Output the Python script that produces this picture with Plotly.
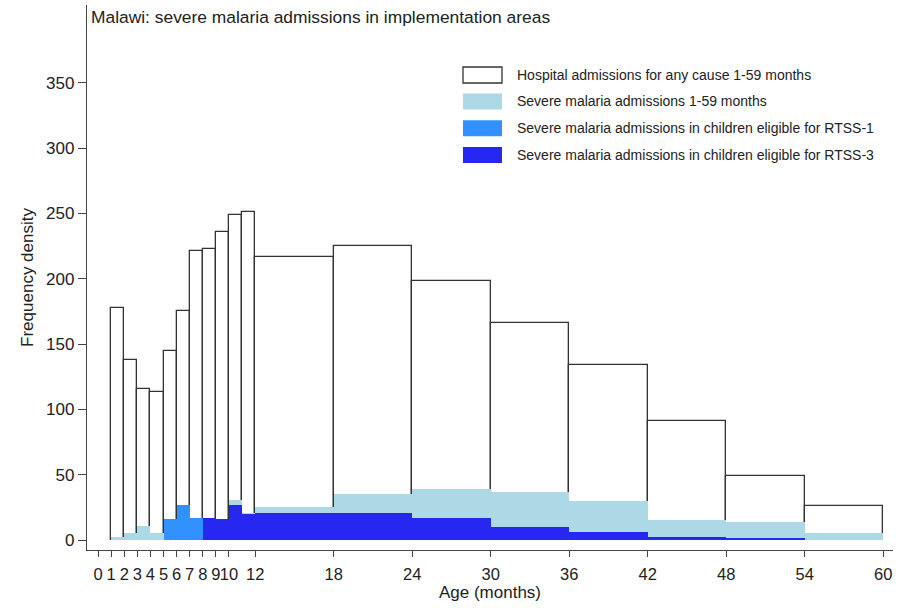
"""
Malawi: severe malaria admissions by age (frequency density histogram).
"""
import plotly.graph_objects as go

FIG_W, FIG_H = 910, 609
FONT = "Liberation Sans, Arial, sans-serif"

# age bins (months)
BIN_LEFT = [1, 2, 3, 4, 5, 6, 7, 8, 9, 10, 11, 12, 18, 24, 30, 36, 42, 48, 54]
BIN_RIGHT = [2, 3, 4, 5, 6, 7, 8, 9, 10, 11, 12, 18, 24, 30, 36, 42, 48, 54, 60]

# frequency density per bin
HOSPITAL = [178, 138, 116, 113, 145, 175, 221, 223, 236, 249, 251,
            217, 225, 198, 166, 134, 91, 49, 26]
SEVERE = [2, 5, 11, 5, 16, 27, 17, 17, 16, 31, 21,
          25, 35, 39, 37, 30, 15, 14, 5]

RTSS1_LEFT = [5, 6, 7]
RTSS1_RIGHT = [6, 7, 8]
RTSS1 = [16, 27, 17]

RTSS3_LEFT = [8, 9, 10, 11, 12, 18, 24, 30, 36, 42, 48]
RTSS3_RIGHT = [9, 10, 11, 12, 18, 24, 30, 36, 42, 48, 54]
RTSS3 = [17, 16, 27, 20, 21, 21, 17, 10, 6, 2.5, 1]

X_TICKS = [0, 1, 2, 3, 4, 5, 6, 7, 8, 9, 10, 12, 18, 24, 30, 36, 42, 48, 54, 60]
Y_TICKS = [0, 50, 100, 150, 200, 250, 300, 350]

LEGEND_LABELS = [
    "Hospital admissions for any cause 1-59 months",
    "Severe malaria admissions 1-59 months",
    "Severe malaria admissions in children eligible for RTSS-1",
    "Severe malaria admissions in children eligible for RTSS-3",
]
COL_HOSP = "white"
COL_SEVERE = "#ADD8E6"
COL_RTSS1 = "#3192FF"
COL_RTSS3 = "#2727F2"


def bar_trace(left, right, vals, fill, line_col=None, line_w=0):
    mids = [(a + b) / 2 for a, b in zip(left, right)]
    widths = [b - a for a, b in zip(left, right)]
    return go.Bar(
        x=mids, y=vals, width=widths, base=0,
        marker=dict(color=fill, line=dict(color=line_col or fill, width=line_w)),
        showlegend=False, hoverinfo="x+y",
    )


fig = go.Figure()
fig.add_trace(bar_trace(BIN_LEFT, BIN_RIGHT, HOSPITAL, COL_HOSP, "#333333", 1.3))
fig.add_trace(bar_trace(BIN_LEFT, BIN_RIGHT, SEVERE, COL_SEVERE))
fig.add_trace(bar_trace(RTSS1_LEFT, RTSS1_RIGHT, RTSS1, COL_RTSS1))
fig.add_trace(bar_trace(RTSS3_LEFT, RTSS3_RIGHT, RTSS3, COL_RTSS3))

# plot area in pixels -> paper coords for the hand-made legend
L, R, T, B = 87, 893, 5, 550


def px(x):
    return (x - L) / (R - L)


def py(y):
    return (B - y) / (B - T)


row_y = [75, 101.5, 128.3, 155]
sw_fill = [COL_HOSP, COL_SEVERE, COL_RTSS1, COL_RTSS3]
for i, (lab, yc) in enumerate(zip(LEGEND_LABELS, row_y)):
    fig.add_shape(
        type="rect", xref="paper", yref="paper",
        x0=px(463), x1=px(502), y0=py(yc + 8), y1=py(yc - 8),
        fillcolor=sw_fill[i],
        line=dict(color="#333333" if i == 0 else sw_fill[i], width=1.3 if i == 0 else 0),
    )
    fig.add_annotation(
        text=lab, xref="paper", yref="paper", x=px(515), y=py(yc),
        xanchor="left", yanchor="middle", showarrow=False,
        font=dict(size=14, color="#222222", family=FONT),
    )

fig.add_annotation(
    text="Malawi: severe malaria admissions in implementation areas",
    xref="paper", yref="paper", x=px(89), y=py(5),
    xanchor="left", yanchor="top", showarrow=False,
    font=dict(size=17.4, color="#222222", family=FONT),
)

fig.update_layout(
    width=FIG_W, height=FIG_H,
    barmode="overlay", bargap=0,
    paper_bgcolor="white", plot_bgcolor="white",
    font=dict(family=FONT, color="#222222", size=17),
    margin=dict(l=L, r=FIG_W - R, t=T, b=FIG_H - B),
)
fig.update_xaxes(
    range=[-0.85, 60.75], tickvals=X_TICKS, ticktext=[str(t) for t in X_TICKS],
    tickangle=0, automargin=False,
    showgrid=False, zeroline=False, showline=True, linecolor="#444444", linewidth=1.3,
    ticks="outside", ticklen=6, tickcolor="#444444", tickfont=dict(size=16.5),
    ticklabelstandoff=3,
    title=dict(text="Age (months)", font=dict(size=17), standoff=2),
)
fig.update_yaxes(
    range=[-7.66, 409.7], tickvals=Y_TICKS, automargin=False,
    showgrid=False, zeroline=False, showline=True, linecolor="#444444", linewidth=1.3,
    ticks="outside", ticklen=8, tickcolor="#444444", tickfont=dict(size=17),
    title=dict(text="Frequency density", font=dict(size=17), standoff=8),
)

# drop the browser's default body margin so the figure sits at the page corner
fig.write_html(
    "out.html",
    config={"displayModeBar": False},
    post_script="document.body.style.margin='0';",
)
